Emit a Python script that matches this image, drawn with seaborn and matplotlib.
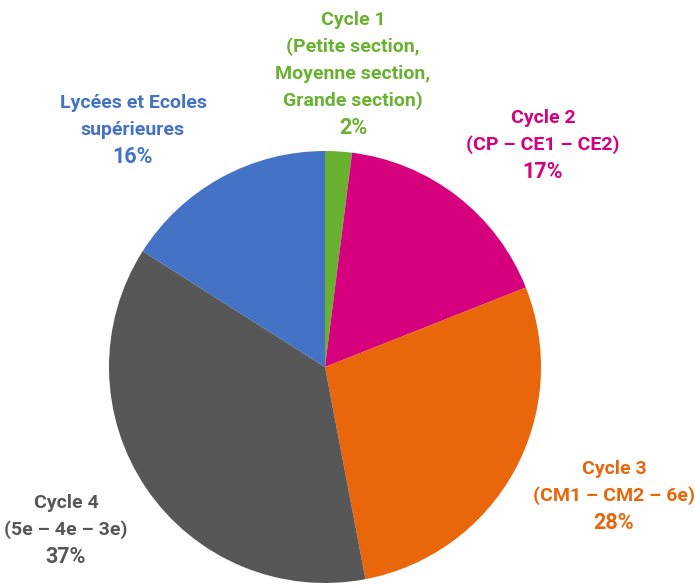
import matplotlib
matplotlib.use("Agg")
import matplotlib.pyplot as plt
import seaborn as sns

sns.set_theme(style="white")
plt.rcParams['font.family'] = ['Roboto', 'DejaVu Sans']

# données
categories = ["Cycle 1\n(Petite section,\nMoyenne section,\nGrande section)",
              "Cycle 2\n(CP – CE1 – CE2)",
              "Cycle 3\n(CM1 – CM2 – 6e)",
              "Cycle 4\n(5e – 4e – 3e)",
              "Lycées et Ecoles\nsupérieures"]
values = [2, 17, 28, 37, 16]
colors = ["#69B231", "#D6007E", "#EA660B", "#575757", "#4472C4"]

# position du texte (centre x, y haut en pixels)
label_pos = [(353, 20), (543, 118), (614, 469), (66, 503), (133, 103)]

W, H = 695, 585
fig = plt.figure(figsize=(W / 100, H / 100), dpi=100)
ax = fig.add_axes([0, 0, 1, 1])

ax.pie(values, colors=colors, startangle=90, counterclock=False,
       center=(325, H - 367), radius=216,
       wedgeprops=dict(linewidth=0))
# pie() remet les limites, donc après
ax.set_xlim(0, W)
ax.set_ylim(0, H)
ax.set_aspect('equal')
ax.axis('off')

step = 27
for cat, val, col, (x, y0) in zip(categories, values, colors, label_pos):
    lines = cat.split("\n") + [f"{val}%"]
    for i, line in enumerate(lines):
        ax.text(x, H - (y0 + i * step), line, color=col, ha='center', va='center',
                fontsize=14 if i < len(lines) - 1 else 15.5, fontweight='bold')

fig.savefig("out.png", dpi=100)
